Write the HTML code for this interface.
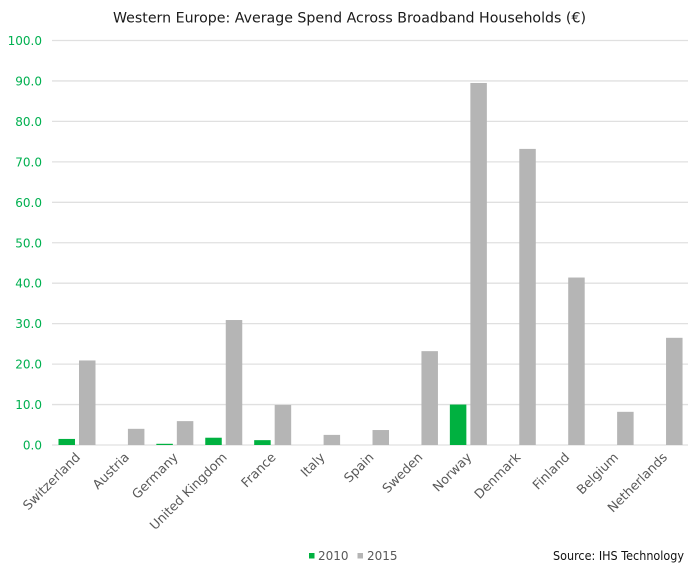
<!DOCTYPE html>
<html>
<head>
<meta charset="utf-8">
<style>
  html, body { margin: 0; padding: 0; background: #ffffff; }
  svg { display: block; }
  text { font-family: "DejaVu Sans", "Liberation Sans", sans-serif; }
</style>
</head>
<body>
<svg width="700" height="574" viewBox="0 0 700 574" xmlns="http://www.w3.org/2000/svg">
  <rect x="0" y="0" width="700" height="574" fill="#ffffff"/>

  <!-- Title -->
  <text x="349.5" y="22.5" font-size="14" fill="#1a1a1a" text-anchor="middle" textLength="473" lengthAdjust="spacingAndGlyphs">Western Europe:  Average Spend Across Broadband Households (€)</text>

  <!-- Gridlines -->
  <g stroke="#e0e0e0" stroke-width="1.3">
    <line x1="52" x2="688" y1="40.5" y2="40.5"/>
    <line x1="52" x2="688" y1="80.95" y2="80.95"/>
    <line x1="52" x2="688" y1="121.4" y2="121.4"/>
    <line x1="52" x2="688" y1="161.85" y2="161.85"/>
    <line x1="52" x2="688" y1="202.3" y2="202.3"/>
    <line x1="52" x2="688" y1="242.75" y2="242.75"/>
    <line x1="52" x2="688" y1="283.2" y2="283.2"/>
    <line x1="52" x2="688" y1="323.65" y2="323.65"/>
    <line x1="52" x2="688" y1="364.1" y2="364.1"/>
    <line x1="52" x2="688" y1="404.55" y2="404.55"/>
    <line x1="52" x2="688" y1="445" y2="445"/>
  </g>

  <!-- Y labels -->
  <g font-size="12" fill="#00b050" text-anchor="end">
    <text x="42" y="45">100.0</text>
    <text x="42" y="85.5">90.0</text>
    <text x="42" y="126">80.0</text>
    <text x="42" y="166.4">70.0</text>
    <text x="42" y="206.8">60.0</text>
    <text x="42" y="247.3">50.0</text>
    <text x="42" y="287.7">40.0</text>
    <text x="42" y="328.2">30.0</text>
    <text x="42" y="368.6">20.0</text>
    <text x="42" y="409.1">10.0</text>
    <text x="42" y="449.5">0.0</text>
  </g>

  <!-- 2015 bars (gray) -->
  <g fill="#b5b5b5">
    <rect x="79" y="360.46" width="16.5" height="84.54"/>
    <rect x="127.92" y="428.82" width="16.5" height="16.18"/>
    <rect x="176.84" y="421.13" width="16.5" height="23.87"/>
    <rect x="225.76" y="320.01" width="16.5" height="124.99"/>
    <rect x="274.68" y="404.95" width="16.5" height="40.05"/>
    <rect x="323.6" y="434.89" width="16.5" height="10.11"/>
    <rect x="372.52" y="430.03" width="16.5" height="14.97"/>
    <rect x="421.44" y="351.16" width="16.5" height="93.84"/>
    <rect x="470.36" y="82.97" width="16.5" height="362.03"/>
    <rect x="519.28" y="148.91" width="16.5" height="296.09"/>
    <rect x="568.2" y="277.54" width="16.5" height="167.46"/>
    <rect x="617.12" y="411.83" width="16.5" height="33.17"/>
    <rect x="666.04" y="337.81" width="16.5" height="107.19"/>
  </g>

  <!-- 2010 bars (green) -->
  <g fill="#00b140">
    <rect x="58.5" y="438.93" width="16.5" height="6.07"/>
    <rect x="156.34" y="443.79" width="16.5" height="1.21"/>
    <rect x="205.26" y="437.72" width="16.5" height="7.28"/>
    <rect x="254.18" y="440.15" width="16.5" height="4.85"/>
    <rect x="449.86" y="404.55" width="16.5" height="40.45"/>
  </g>

  <!-- X labels -->
  <g font-size="12.8" fill="#595959" text-anchor="end">
    <text transform="translate(81,458) rotate(-45)">Switzerland</text>
    <text transform="translate(129.9,458) rotate(-45)">Austria</text>
    <text transform="translate(178.8,458) rotate(-45)">Germany</text>
    <text transform="translate(227.7,458) rotate(-45)">United Kingdom</text>
    <text transform="translate(276.6,458) rotate(-45)">France</text>
    <text transform="translate(325.6,458) rotate(-45)">Italy</text>
    <text transform="translate(374.5,458) rotate(-45)">Spain</text>
    <text transform="translate(423.4,458) rotate(-45)">Sweden</text>
    <text transform="translate(472.3,458) rotate(-45)">Norway</text>
    <text transform="translate(521.2,458) rotate(-45)">Denmark</text>
    <text transform="translate(570.2,458) rotate(-45)">Finland</text>
    <text transform="translate(619.1,458) rotate(-45)">Belgium</text>
    <text transform="translate(668,458) rotate(-45)">Netherlands</text>
  </g>

  <!-- Legend -->
  <rect x="309" y="553" width="5.5" height="5.5" fill="#00b140"/>
  <text x="318" y="560" font-size="12" fill="#595959">2010</text>
  <rect x="357.5" y="553" width="5.5" height="5.5" fill="#b5b5b5"/>
  <text x="367" y="560" font-size="12" fill="#595959">2015</text>

  <!-- Source -->
  <text x="553" y="560" font-size="12" fill="#111111" textLength="131" lengthAdjust="spacingAndGlyphs">Source: IHS Technology</text>
</svg>
</body>
</html>
